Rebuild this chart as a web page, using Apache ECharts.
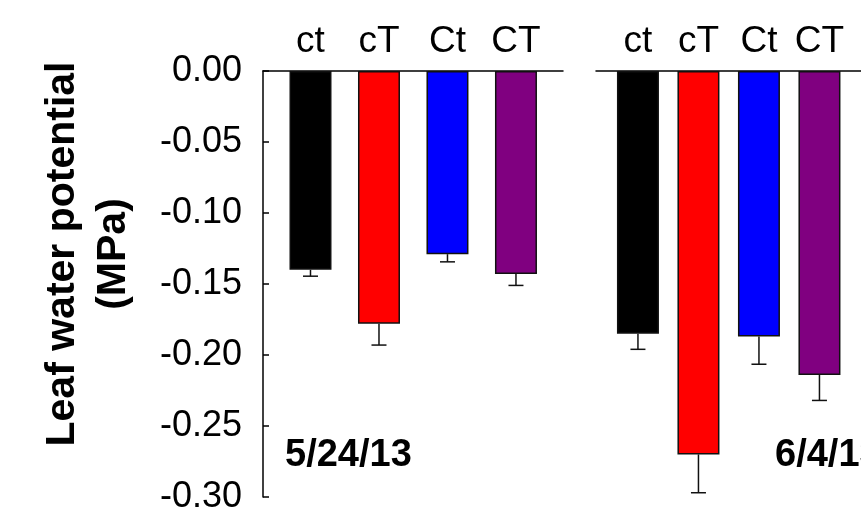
<!DOCTYPE html>
<html><head><meta charset="utf-8">
<script src="https://cdn.jsdelivr.net/npm/echarts@6/dist/echarts.min.js"></script>
<style>html,body{margin:0;padding:0;background:#fff}#c{width:861px;height:520px}</style>
</head><body><div id="c"></div>
<script>
const categories = ['ct', 'cT', 'Ct', 'CT'];
const dates = ['5/24/13', '6/4/13'];
const barColors = ['#000000', '#ff0000', '#0000ff', '#800080'];
const means0524 = [-0.140, -0.178, -0.129, -0.143];
const se0524 = [0.0045, 0.015, 0.0054, 0.008];
const means0604 = [-0.185, -0.270, -0.187, -0.214];
const se0604 = [0.011, 0.027, 0.0195, 0.018];
const yTitle = 'Leaf water potential\n(MPa)';

const FONT = '"Liberation Sans", Arial, Helvetica, sans-serif';
const chart = echarts.init(document.getElementById('c'), null, {renderer: 'canvas'});
const axisLineStyle = {color: '#000', width: 1.5};

function xAxisFor(g) {
  return {
    type: 'value', gridIndex: g, position: 'top', min: -0.6934, max: 3.6866,
    splitLine: {show: false}, axisTick: {show: false},
    axisLine: {show: true, onZero: false, lineStyle: axisLineStyle},
    axisLabel: {customValues: [0, 1, 2, 3], formatter: v => categories[Math.round(v)],
      fontSize: 37, color: '#000', margin: 11, fontFamily: FONT}
  };
}
function barSeries(g, means) {
  return {
    type: 'bar', xAxisIndex: g, yAxisIndex: g, barWidth: 42,
    data: means.map((v, i) => ({value: [i, v], itemStyle: {color: barColors[i]}})),
    itemStyle: {borderColor: '#111', borderWidth: 1.5}
  };
}
function errSeries(g, means, se) {
  return {
    type: 'custom', xAxisIndex: g, yAxisIndex: g, z: 1,
    data: means.map((v, i) => [i, v, se[i]]),
    renderItem: function (params, api) {
      const x = api.value(0), v = api.value(1), e = api.value(2);
      const p0 = api.coord([x, v]);
      const p1 = api.coord([x, v - e]);
      const st = {stroke: '#111', lineWidth: 1.5};
      return {type: 'group', children: [
        {type: 'line', shape: {x1: p0[0], y1: p0[1], x2: p1[0], y2: p1[1]}, style: st},
        {type: 'line', shape: {x1: p1[0] - 7.5, y1: p1[1], x2: p1[0] + 7.5, y2: p1[1]}, style: st}
      ]};
    }
  };
}

const option = {
  animation: false,
  backgroundColor: '#fff',
  grid: [
    {left: 263, top: 71, width: 300, height: 426},
    {left: 596, top: 71, width: 300, height: 426}
  ],
  xAxis: [xAxisFor(0), xAxisFor(1)],
  yAxis: [
    {type: 'value', gridIndex: 0, min: -0.3, max: 0, interval: 0.05, position: 'left',
      axisLine: {show: true, onZero: false, lineStyle: axisLineStyle},
      axisTick: {show: true, inside: true, length: 6, lineStyle: axisLineStyle},
      splitLine: {show: false},
      axisLabel: {formatter: v => v.toFixed(2), fontSize: 36, color: '#000', margin: 21, fontFamily: FONT}},
    {type: 'value', gridIndex: 1, min: -0.3, max: 0, show: false}
  ],
  series: [
    barSeries(0, means0524), errSeries(0, means0524, se0524),
    barSeries(1, means0604), errSeries(1, means0604, se0604)
  ],
  graphic: [
    {type: 'text', x: 88, y: 254, rotation: Math.PI / 2,
      style: {text: yTitle, fontSize: 41, fontWeight: 'bold', fontFamily: FONT, fill: '#000',
        align: 'center', verticalAlign: 'middle', lineHeight: 51}},
    {type: 'text', x: 285, y: 437,
      style: {text: dates[0], fontSize: 38, fontWeight: 'bold', fontFamily: FONT, fill: '#000', align: 'left', verticalAlign: 'top'}},
    {type: 'text', x: 775, y: 437,
      style: {text: dates[1], fontSize: 38, fontWeight: 'bold', fontFamily: FONT, fill: '#000', align: 'left', verticalAlign: 'top'}}
  ]
};
chart.setOption(option);
</script></body></html>
